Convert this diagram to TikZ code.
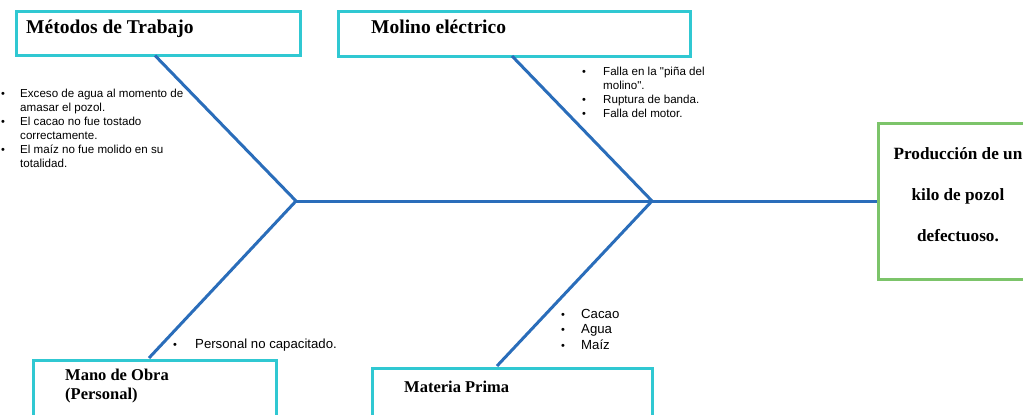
\documentclass[tikz,border=0pt]{standalone}
\usepackage{fontspec}
\setmainfont{Liberation Serif}
\newfontfamily\arialf{Liberation Sans}
\definecolor{boxcyan}{HTML}{30C8D2}
\definecolor{boneblue}{HTML}{2A6DBA}
\definecolor{effgreen}{HTML}{7CC46A}
\begin{document}
\begin{tikzpicture}[x=1pt,y=-1pt,
  catbox/.style={draw=boxcyan,line width=3pt,inner sep=0pt,fill=white},
  effbox/.style={draw=effgreen,line width=3pt,inner sep=0pt,fill=white},
  bone/.style={draw=boneblue,line width=3pt},
  ttl/.style={font=\bfseries\fontsize{19.5}{22}\selectfont,anchor=base west,inner sep=0pt},
  ttls/.style={font=\bfseries\fontsize{16.5}{18}\selectfont,anchor=base west,inner sep=0pt},
  efft/.style={font=\bfseries\fontsize{17.2}{18}\selectfont,anchor=base,inner sep=0pt},
  itm/.style={font=\arialf\fontsize{11.6}{14}\selectfont,anchor=base west,inner sep=0pt},
  itmb/.style={font=\arialf\fontsize{13.2}{15}\selectfont,anchor=base west,inner sep=0pt},
  dot/.style={font=\arialf\fontsize{11}{12}\selectfont,anchor=base,inner sep=0pt}]
\useasboundingbox (0,0) rectangle (1023,415);
\begin{scope}
\clip (0,0) rectangle (1023,415);
% boxes
\node[catbox,minimum width=284pt,minimum height=44pt,anchor=north west] (met) at (14.5,10) {};
\node[catbox,minimum width=352pt,minimum height=45pt,anchor=north west] (mol) at (336.5,9.5) {};
\node[catbox,minimum width=243pt,minimum height=70pt,anchor=north west] (mano) at (31.5,359) {};
\node[catbox,minimum width=280pt,minimum height=62pt,anchor=north west] (mat) at (370.5,367) {};
\node[effbox,minimum width=160pt,minimum height=156pt,anchor=north west] (eff) at (876.5,121.5) {};
% junctions
\coordinate (j1) at (296,201);
\coordinate (j2) at (652,201);
\coordinate (m1) at (155,55.5);
\coordinate (m2) at (512,56);
\coordinate (b1) at (149,358);
\coordinate (b2) at (497,366);
% bones
\draw[bone] (m1) -- (j1);
\draw[bone] (m2) -- (j2);
\draw[bone] (b1) -- (j1);
\draw[bone] (b2) -- (j2);
\draw[bone] (j1) -- (j1 -| eff.west);
% titles
\node[ttl] (tmet) at (26,33) {Métodos de Trabajo};
\node[ttl] (tmol) at (371,33) {Molino eléctrico};
\node[ttls] (tman1) at (65,380) {Mano de Obra};
\node[ttls] (tman2) at (65,399) {(Personal)};
\node[ttls] (tmat) at (404,392) {Materia Prima};
\node[efft] (te1) at (958,159) {Producción de un};
\node[efft] (te2) at (958,200) {kilo de pozol};
\node[efft] (te3) at (958,241) {defectuoso.};
% Métodos items
\node[dot] (dm1) at (3,97) {•};
\node[itm] (im1) at (20,97) {Exceso de agua al momento de};
\node[itm] (im2) at (20,111) {amasar el pozol.};
\node[dot] (dm2) at (3,125) {•};
\node[itm] (im3) at (20,125) {El cacao no fue tostado};
\node[itm] (im4) at (20,139) {correctamente.};
\node[dot] (dm3) at (3,153) {•};
\node[itm] (im5) at (20,153) {El maíz no fue molido en su};
\node[itm] (im6) at (20,167) {totalidad.};
% Molino items
\node[dot] (do1) at (584,75) {•};
\node[itm] (io1) at (603,75) {Falla en la "piña del};
\node[itm] (io2) at (603,89) {molino".};
\node[dot] (do2) at (584,103) {•};
\node[itm] (io3) at (603,103) {Ruptura de banda.};
\node[dot] (do3) at (584,117) {•};
\node[itm] (io4) at (603,117) {Falla del motor.};
% Mano items
\node[dot] (dp1) at (175,348) {•};
\node[itmb] (ip1) at (195,348) {Personal no capacitado.};
% Materia items
\node[dot] (da1) at (563,318) {•};
\node[itmb] (ia1) at (581,318) {Cacao};
\node[dot] (da2) at (563,333.5) {•};
\node[itmb] (ia2) at (581,333.5) {Agua};
\node[dot] (da3) at (563,349) {•};
\node[itmb] (ia3) at (581,349) {Maíz};
\end{scope}
\end{tikzpicture}
\end{document}
